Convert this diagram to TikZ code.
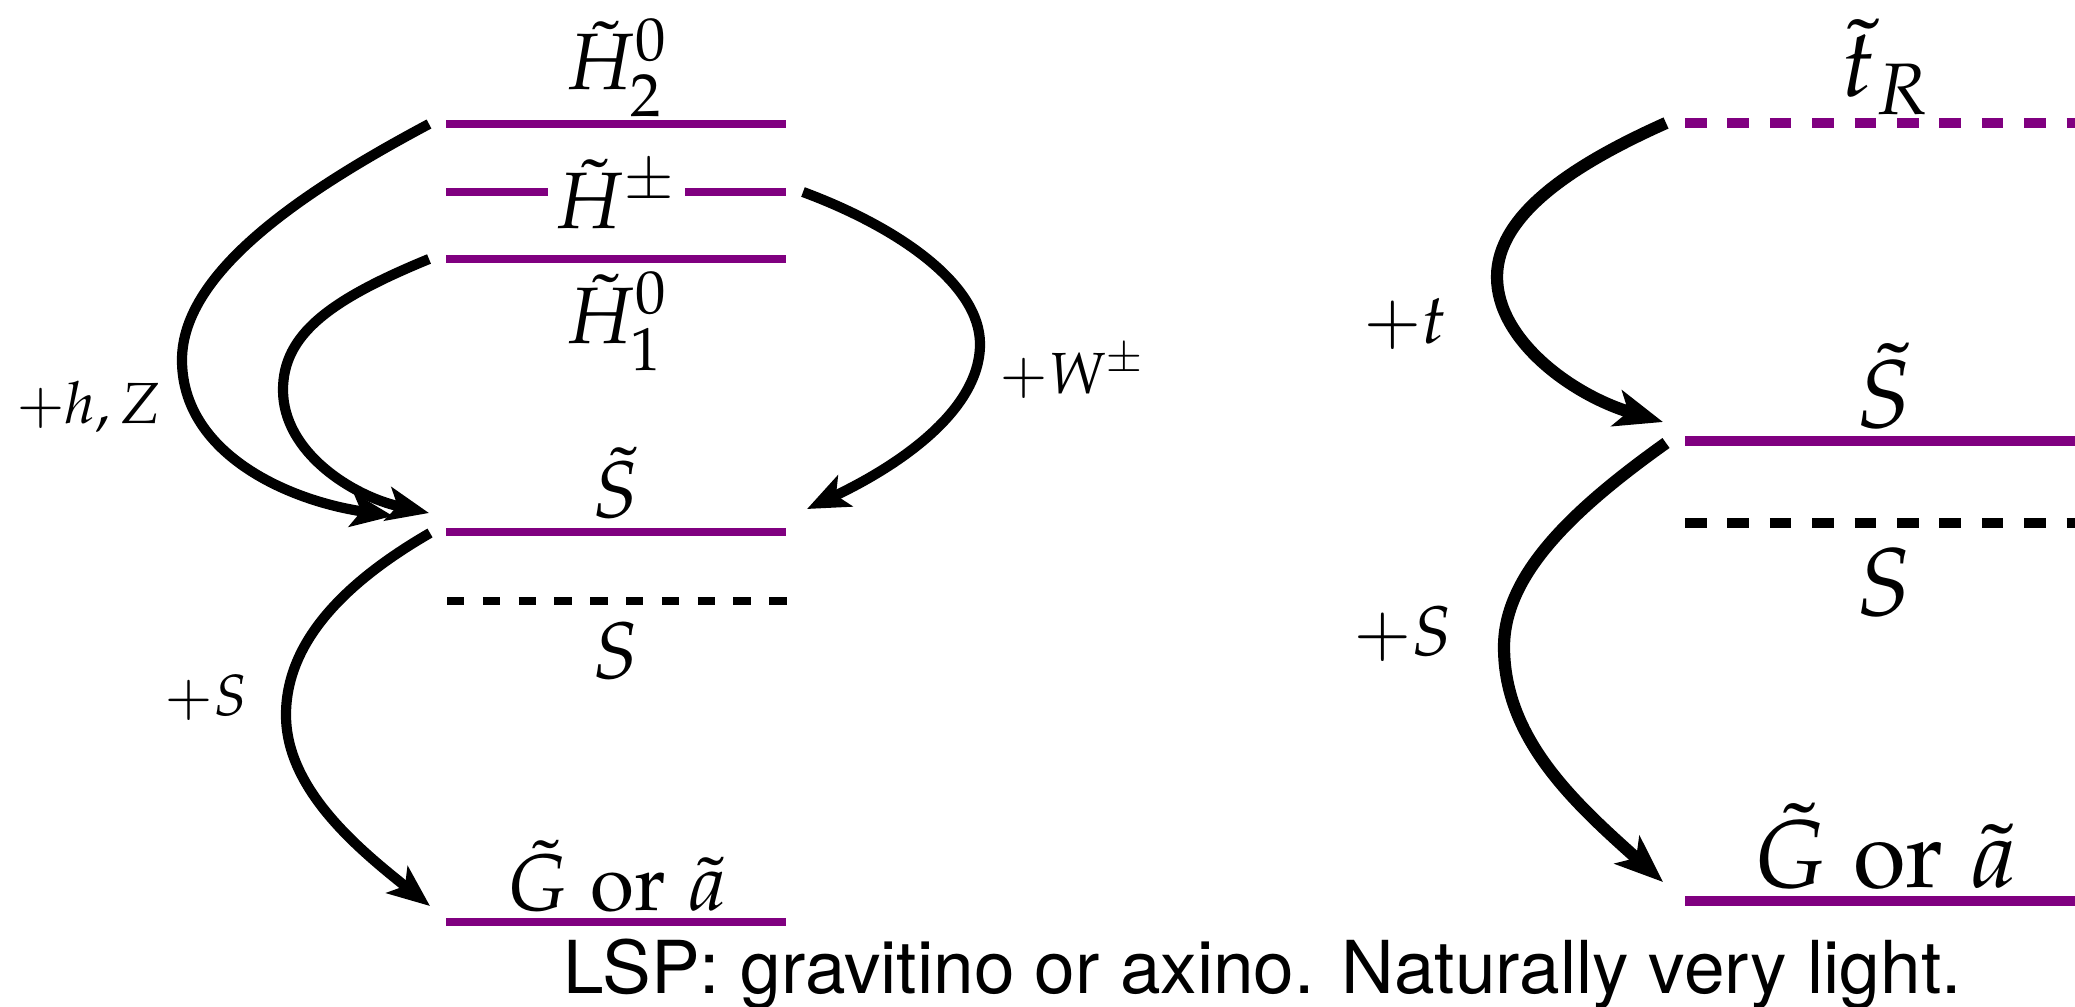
\documentclass[tikz,border=0pt]{standalone}
\usepackage{fontspec}
\usepackage{mathpazo}
\usetikzlibrary{arrows.meta}
\newfontfamily\lspfont{TeX Gyre Heros}
\definecolor{lvlpurple}{RGB}{128,0,128}
\tikzset{
  levelL/.style={draw=lvlpurple, line width=4.2pt},
  levelR/.style={draw=lvlpurple, line width=4.85pt},
  dashL/.style={draw=black, line width=4pt, dash pattern=on 8.7pt off 9.2pt},
  dashRp/.style={draw=lvlpurple, line width=5pt, dash pattern=on 10.8pt off 10.4pt},
  dashRb/.style={draw=black, line width=5pt, dash pattern=on 10.8pt off 10.4pt},
  arrL/.style={draw=black, line width=5.1pt, -{Stealth[length=21pt,width=17pt,inset=5pt]}},
  arrR/.style={draw=black, line width=6.1pt, -{Stealth[length=24pt,width=18.5pt,inset=6pt]}},
  labL/.style={font=\fontsize{40}{48}\selectfont, anchor=base, inner sep=0pt},
  labR/.style={font=\fontsize{48}{56}\selectfont, anchor=base, inner sep=0pt},
  smL/.style={font=\fontsize{29}{35}\selectfont, anchor=base, inner sep=0pt},
  smR/.style={font=\fontsize{35}{42}\selectfont, anchor=base, inner sep=0pt}
}
\begin{document}
\begin{tikzpicture}[x=0.5pt,y=-0.5pt]
\useasboundingbox (0,0) rectangle (2075,1006);
\clip (0,0) rectangle (2075,1006);

% ---------- left panel: levels ----------
\coordinate (H2a) at (446,124);  \coordinate (H2b) at (786,124);
\coordinate (Hpa) at (446,192);  \coordinate (Hpb) at (548,192);
\coordinate (Hpc) at (685,192);  \coordinate (Hpd) at (786,192);
\coordinate (H1a) at (446,259);  \coordinate (H1b) at (786,259);
\coordinate (LSta) at (446,532); \coordinate (LStb) at (786,532);
\coordinate (LSa) at (447,601);  \coordinate (LSb) at (787,601);
\coordinate (LGa) at (446,922);  \coordinate (LGb) at (786,922);

\draw[levelL] (H2a) -- (H2b);
\draw[levelL] (Hpa) -- (Hpb);
\draw[levelL] (Hpc) -- (Hpd);
\draw[levelL] (H1a) -- (H1b);
\draw[levelL] (LSta) -- (LStb);
\draw[dashL] (LSa) -- (LSb);
\draw[levelL] (LGa) -- (LGb);

\node[labL] (lH2) at (616,90) {$\tilde H_2^0$};
\node[labL] (lHpm) at (615,228) {$\tilde H^{\pm}$};
\node[labL] (lH1) at (616,343) {$\tilde H_1^0$};
\node[labL] (lSt) at (616,517) {$\tilde S$};
\node[labL] (lS) at (616,678) {$S$};
\node[labL] (lG) at (617,910) {$\tilde G\;\mathrm{or}\;\tilde a$};

% ---------- left panel: arrows ----------
\coordinate (aH2) at (429,124);
\coordinate (aH1) at (429,259);
\coordinate (aHp) at (803,192);
\coordinate (aSt) at (430,533);
\coordinate (tOut) at (393,516);
\coordinate (tIn) at (429,513);
\coordinate (tW) at (807,509);
\coordinate (tG) at (430,906);

\draw[arrL] (aH2) .. controls (309,188) and (182,270) .. (182,360)
               .. controls (182,452) and (285,500) .. (tOut);
\draw[arrL] (aH1) .. controls (329,300) and (283,335) .. (283,390)
               .. controls (283,452) and (352,496) .. (tIn);
\draw[arrL] (aHp) .. controls (900,228) and (980,285) .. (980,344)
               .. controls (980,410) and (900,465) .. (tW);
\draw[arrL] (aSt) .. controls (340,585) and (286,645) .. (286,715)
               .. controls (286,790) and (360,850) .. (tG);

\node[smL] (lhz) at (89,423) {$+h,Z$};
\node[smL] (lW) at (1072,393) {$+W^{\pm}$};
\node[smL] (lSS) at (206,715) {$+S$};

% ---------- right panel: levels ----------
\coordinate (Rta) at (1685,123);  \coordinate (Rtb) at (2095,123);
\coordinate (RSta) at (1685,441); \coordinate (RStb) at (2095,441);
\coordinate (RSa) at (1685,523);  \coordinate (RSb) at (2095,523);
\coordinate (RGa) at (1685,901);  \coordinate (RGb) at (2095,901);

\draw[dashRp] (Rta) -- (Rtb);
\draw[levelR] (RSta) -- (RStb);
\draw[dashRb] (RSa) -- (RSb);
\draw[levelR] (RGa) -- (RGb);

\node[labR] (rt) at (1885,97) {$\tilde t_R$};
\node[labR] (rSt) at (1884,427) {$\tilde S$};
\node[labR] (rS) at (1884,615) {$S$};
\node[labR] (rG) at (1885,887) {$\tilde G\;\mathrm{or}\;\tilde a$};

% ---------- right panel: arrows ----------
\coordinate (bt) at (1666,123);
\coordinate (bSt) at (1666,443);
\coordinate (ctSt) at (1663,422);
\coordinate (cG) at (1663,882);

\draw[arrR] (bt) .. controls (1572,165) and (1497,215) .. (1497,277)
             .. controls (1497,340) and (1572,395) .. (ctSt);
\draw[arrR] (bSt) .. controls (1572,510) and (1504,575) .. (1504,647)
             .. controls (1504,740) and (1577,805) .. (cG);

\node[smR] (rtt) at (1405,343) {$+t$};
\node[smR] (rSS) at (1403,655) {$+S$};

% ---------- caption ----------
\node[anchor=base west, inner sep=0pt, font=\lspfont\fontsize{36.5}{44}\selectfont]
  (lsp) at (563,993) {LSP: gravitino or axino. Naturally very light.};
\end{tikzpicture}
\end{document}
